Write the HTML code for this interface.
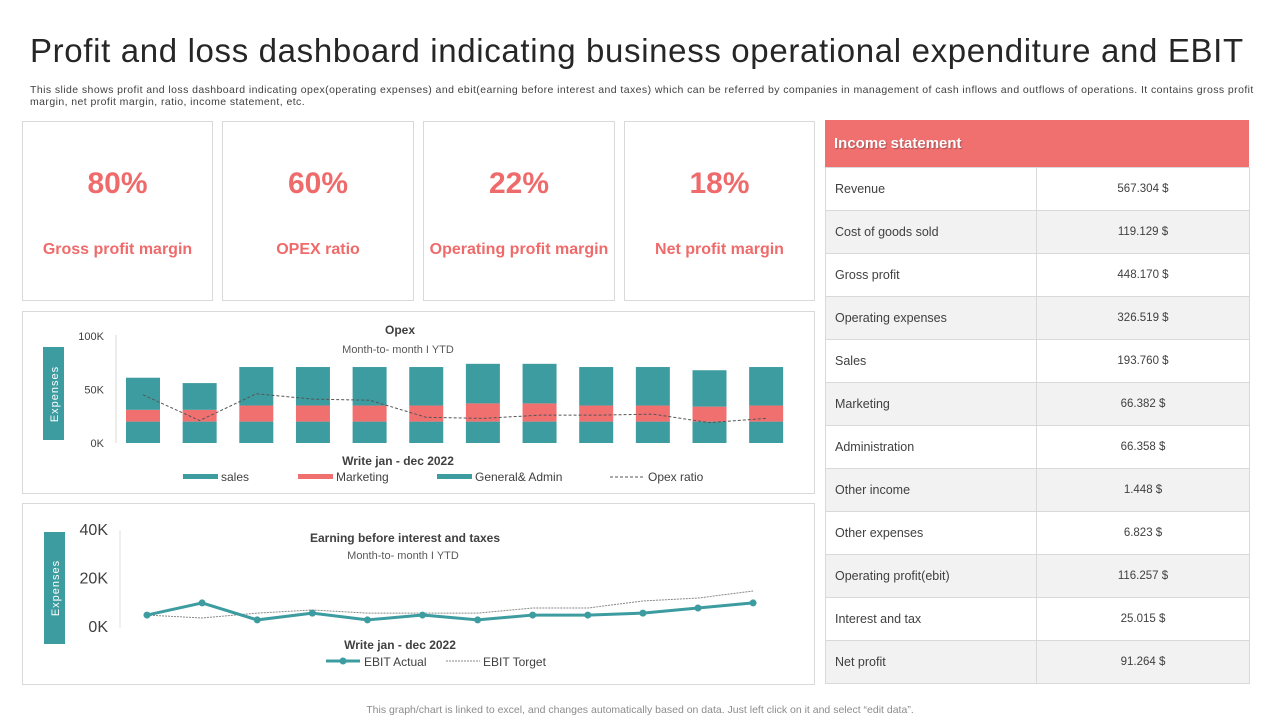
<!DOCTYPE html>
<html><head><meta charset="utf-8">
<style>
body{margin:0;width:1280px;height:720px;background:#fff;font-family:"Liberation Sans",sans-serif;position:relative;overflow:hidden;color:#404040}
.abs{position:absolute}
.card{position:absolute;border:1px solid #d9d9d9;background:#fff;box-sizing:border-box}
.kv{position:absolute;width:100%;text-align:center;color:#ef6b6b;font-weight:bold}
table{border-collapse:collapse;table-layout:fixed}
td{font-size:12.5px;color:#404040;height:42px;border:1px solid #d9d9d9;padding:0}
</style></head><body>
<div class="abs" style="left:30px;top:32px;font-size:33px;letter-spacing:0.65px;color:#262626;white-space:nowrap">Profit and loss dashboard indicating business operational expenditure and EBIT</div>
<div class="abs" style="left:30px;top:84px;width:1224px;font-size:10.5px;letter-spacing:0.42px;line-height:12px;color:#404040">This slide shows profit and loss dashboard indicating opex(operating expenses) and ebit(earning before interest and taxes) which can be referred by companies in management of cash inflows and outflows of operations. It contains gross profit margin, net profit margin, ratio, income statement, etc.</div>

<div class="card" style="left:22px;top:121px;width:191px;height:180px"><div class="kv" style="top:45px;font-size:30px">80%</div><div class="kv" style="top:119px;font-size:16px">Gross profit margin</div></div>
<div class="card" style="left:222px;top:121px;width:192px;height:180px"><div class="kv" style="top:45px;font-size:30px">60%</div><div class="kv" style="top:119px;font-size:16px">OPEX ratio</div></div>
<div class="card" style="left:423px;top:121px;width:192px;height:180px"><div class="kv" style="top:45px;font-size:30px">22%</div><div class="kv" style="top:119px;font-size:16px">Operating profit margin</div></div>
<div class="card" style="left:624px;top:121px;width:191px;height:180px"><div class="kv" style="top:45px;font-size:30px">18%</div><div class="kv" style="top:119px;font-size:16px">Net profit margin</div></div>

<div class="card" style="left:22px;top:311px;width:793px;height:183px"></div>
<div class="card" style="left:22px;top:503px;width:793px;height:182px"></div>

<svg class="abs" style="left:0;top:0" width="1280" height="720">
<g id="opex"></g><g id="ebit"></g>
</svg>

<div class="abs" style="left:825px;top:120px;width:424px">
<div style="background:#f07070;height:47px;color:#fff;font-weight:bold;font-size:15px;line-height:47px;padding-left:9px;text-shadow:1px 1px 1px rgba(0,0,0,0.3)">Income statement</div>
<table id="tbl" style="width:424px"><colgroup><col style="width:211px"><col style="width:213px"></colgroup></table>
</div>

<div class="abs" style="left:0;width:1280px;top:704px;text-align:center;font-size:10.5px;color:#8c8c8c">This graph/chart is linked to excel, and changes automatically based on data. Just left click on it and select “edit data”.</div>

<script>
const rowsLabel=["Revenue","Cost of goods sold","Gross profit","Operating expenses","Sales","Marketing","Administration","Other income","Other expenses","Operating profit(ebit)","Interest and tax","Net profit"];
const rowsValue=["567.304 $","119.129 $","448.170 $","326.519 $","193.760 $","66.382 $","66.358 $","1.448 $","6.823 $","116.257  $","25.015  $","91.264  $"];

const months=["Jan","Feb","Mar","Apr","May","Jun","Jul","Aug","Sep","Oct","Nov","Dec"];
const gaVals=[20,20,20,20,20,20,20,20,20,20,20,20];
const mktVals=[11,11,15,15,15,15,17,17,15,15,14,15];
const salesVals=[30,25,36,36,36,36,37,37,36,36,34,36];
const opexRatio=[45,21,46,41,40,24,23,26,26,27,19,23];
const opexTicks=[0,50,100];

const ebitActual=[4.5,9.5,2.5,5.3,2.5,4.5,2.5,4.5,4.5,5.3,7.4,9.5];
const ebitTarget=[4.5,3.3,5.3,6.6,5.3,5.3,5.3,7.4,7.4,10.3,11.5,14.4];
const ebitTicks=[0,20,40];

const tbl=document.getElementById('tbl');
rowsLabel.forEach((l,i)=>{
 const tr=document.createElement('tr');
 
 
 tr.style.background=i%2?'#f2f2f2':'#fff';
 tr.innerHTML='<td style="padding-left:9px">'+l+'</td><td style="text-align:center;font-size:11.5px">'+rowsValue[i]+'</td>';
 tbl.appendChild(tr);
});

const NS='http://www.w3.org/2000/svg';
function mk(p,tag,at,txt){const e=document.createElementNS(NS,tag);for(const k in at)e.setAttribute(k,at[k]);if(txt!==undefined)e.textContent=txt;p.appendChild(e);return e;}
const teal='#3d9ca0',red='#f07070';

// OPEX
const g1=document.getElementById('opex');
const oy=v=>443-v*1.07;
const ox=i=>143+i*56.65;
mk(g1,'line',{x1:116,y1:335,x2:116,y2:443,stroke:'#d9d9d9'});
opexTicks.forEach(t=>{const e=mk(g1,'text',{x:104,y:oy(t)+4,'text-anchor':'end','font-size':11,fill:'#404040'},t+'K');});
const r1=mk(g1,'rect',{x:43,y:347,width:21,height:93,fill:teal});

mk(g1,'text',{x:0,y:0,transform:'translate(58,394) rotate(-90)','text-anchor':'middle','font-size':11,fill:'#fff','letter-spacing':'1'},'Expenses');
mk(g1,'text',{x:400,y:334,'text-anchor':'middle','font-size':12,'font-weight':'bold',fill:'#404040'},'Opex');
mk(g1,'text',{x:398,y:353,'text-anchor':'middle','font-size':11,fill:'#595959'},'Month-to- month I YTD');
months.forEach((m,i)=>{
 const x=ox(i)-17;
 let b=mk(g1,'rect',{x:x,y:oy(gaVals[i]),width:34,height:oy(0)-oy(gaVals[i]),fill:teal});
 
 const m1=gaVals[i]+mktVals[i];
 b=mk(g1,'rect',{x:x,y:oy(m1),width:34,height:oy(gaVals[i])-oy(m1),fill:red});
 
 const s1=m1+salesVals[i];
 b=mk(g1,'rect',{x:x,y:oy(s1),width:34,height:oy(m1)-oy(s1),fill:teal});
 
});
const ratioLine=mk(g1,'polyline',{points:opexRatio.map((v,i)=>ox(i)+','+oy(v)).join(' '),fill:'none',stroke:'#555','stroke-width':1,'stroke-dasharray':'3,2'});

mk(g1,'text',{x:398,y:465,'text-anchor':'middle','font-size':12,'font-weight':'bold',fill:'#404040'},'Write jan - dec 2022');
[[183,'sales',teal,'rect'],[298,'Marketing',red,'rect'],[437,'General& Admin',teal,'rect'],[610,'Opex ratio','#555','dash']].forEach(l=>{
 if(l[3]==='rect')mk(g1,'rect',{x:l[0],y:474,width:35,height:5,fill:l[2]});
 else mk(g1,'line',{x1:l[0],y1:477,x2:l[0]+35,y2:477,stroke:l[2],'stroke-dasharray':'3,2'});
 const t=mk(g1,'text',{x:l[0]+38,y:481,'font-size':12,fill:'#404040'},l[1]);
 
});

// EBIT
const g2=document.getElementById('ebit');
const ey=v=>626-v*2.43;
const ex=i=>147+i*55.1;
mk(g2,'line',{x1:120,y1:530,x2:120,y2:628,stroke:'#e0e0e0'});
ebitTicks.forEach(t=>{const e=mk(g2,'text',{x:108,y:ey(t)+6,'text-anchor':'end','font-size':16,fill:'#404040'},t+'K');});
const r2=mk(g2,'rect',{x:44,y:532,width:21,height:112,fill:teal});

mk(g2,'text',{x:0,y:0,transform:'translate(59,588) rotate(-90)','text-anchor':'middle','font-size':11,fill:'#fff','letter-spacing':'1'},'Expenses');
mk(g2,'text',{x:405,y:542,'text-anchor':'middle','font-size':12,'font-weight':'bold',fill:'#404040'},'Earning before interest and taxes');
mk(g2,'text',{x:403,y:559,'text-anchor':'middle','font-size':11,fill:'#595959'},'Month-to- month I YTD');
const tl=mk(g2,'polyline',{points:ebitTarget.map((v,i)=>ex(i)+','+ey(v)).join(' '),fill:'none',stroke:'#888','stroke-width':1,'stroke-dasharray':'2,1'});

const al=mk(g2,'polyline',{points:ebitActual.map((v,i)=>ex(i)+','+ey(v)).join(' '),fill:'none',stroke:teal,'stroke-width':3});

ebitActual.forEach((v,i)=>{const c=mk(g2,'circle',{cx:ex(i),cy:ey(v),r:3.5,fill:teal});});
mk(g2,'text',{x:400,y:649,'text-anchor':'middle','font-size':12,'font-weight':'bold',fill:'#404040'},'Write jan - dec 2022');
mk(g2,'line',{x1:326,y1:661,x2:360,y2:661,stroke:teal,'stroke-width':3});
mk(g2,'circle',{cx:343,cy:661,r:3.5,fill:teal});
let lt=mk(g2,'text',{x:364,y:666,'font-size':12,fill:'#404040'},'EBIT Actual');

mk(g2,'line',{x1:446,y1:661,x2:480,y2:661,stroke:'#888','stroke-dasharray':'2,1'});
lt=mk(g2,'text',{x:483,y:666,'font-size':12,fill:'#404040'},'EBIT Torget');

</script>
</body></html>
